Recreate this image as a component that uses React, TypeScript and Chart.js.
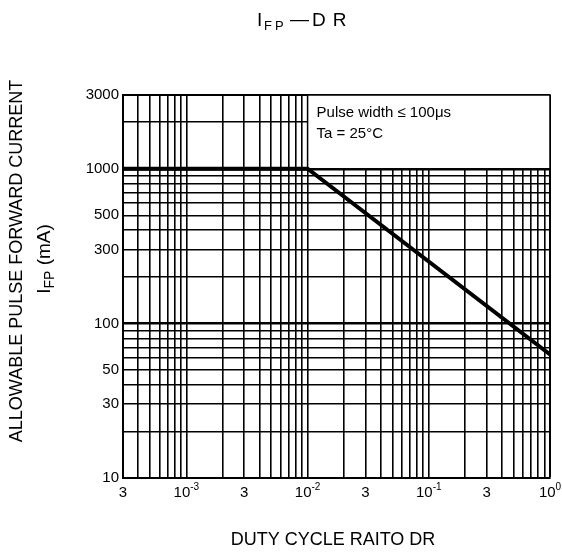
import React, { useEffect, useRef } from "react";
import { Chart, registerables } from "chart.js";

Chart.register(...registerables);

// ---- data ----
const dutyCycle = [0.0003, 0.01, 1];
const allowableCurrent = [1000, 1000, 63];

const xGridValues = [
  0.0003, 0.0004, 0.0005, 0.0006, 0.0007, 0.0008, 0.0009,
  0.001, 0.002, 0.003, 0.004, 0.005, 0.006, 0.007, 0.008, 0.009,
  0.01, 0.02, 0.03, 0.04, 0.05, 0.06, 0.07, 0.08, 0.09,
  0.1, 0.2, 0.3, 0.4, 0.5, 0.6, 0.7, 0.8, 0.9, 1,
];
const yGridValues = [
  10, 20, 30, 40, 50, 60, 70, 80, 90,
  100, 200, 300, 400, 500, 600, 700, 800, 900,
  1000, 2000, 3000,
];
const xLabelValues = [0.0003, 0.001, 0.003, 0.01, 0.03, 0.1, 0.3, 1];
const xLabelBase = ["3", "10", "3", "10", "3", "10", "3", "10"];
const xLabelExp = ["", "-3", "", "-2", "", "-1", "", "0"];
const yLabelValues = [10, 30, 50, 100, 300, 500, 1000, 3000];

const noteLines = ["Pulse width \u2264 100\u03bcs", "Ta = 25\u00b0C"];
const noteBoxX = [0.01, 1];
const noteBoxY = [1000, 3000];

const FONT = '"Liberation Sans", Arial, sans-serif';

const isDecade = (v: number) =>
  Math.abs(Math.log10(v) - Math.round(Math.log10(v))) < 1e-9;

const drawPlugin = {
  id: "drawExtras",
  beforeDatasetsDraw(chart: any) {
    const { ctx } = chart;
    const x = chart.scales.x;
    const y = chart.scales.y;
    const l = x.getPixelForValue(noteBoxX[0]);
    const r = x.getPixelForValue(noteBoxX[1]);
    const t = y.getPixelForValue(noteBoxY[1]);
    const b = y.getPixelForValue(noteBoxY[0]);
    ctx.save();
    ctx.fillStyle = "#fff";
    ctx.fillRect(l, t, r - l, b - t);
    ctx.strokeStyle = "#000";
    ctx.lineWidth = 1.5;
    ctx.strokeRect(l, t, r - l, b - t);
    ctx.fillStyle = "#000";
    ctx.font = `15px ${FONT}`;
    ctx.textBaseline = "middle";
    ctx.textAlign = "left";
    ctx.fillText(noteLines[0], l + 9, t + 18);
    ctx.fillText(noteLines[1], l + 9, t + 39);
    ctx.restore();
  },
  afterDraw(chart: any) {
    const { ctx } = chart;
    const x = chart.scales.x;
    ctx.save();
    ctx.fillStyle = "#000";
    ctx.textBaseline = "middle";
    // x tick labels
    const labelY = chart.chartArea.bottom + 15;
    xLabelValues.forEach((v, i) => {
      const px = x.getPixelForValue(v);
      ctx.font = `15px ${FONT}`;
      const bw = ctx.measureText(xLabelBase[i]).width;
      ctx.font = `10px ${FONT}`;
      const ew = xLabelExp[i] ? ctx.measureText(xLabelExp[i]).width : 0;
      const start = px - (bw + ew) / 2;
      ctx.textAlign = "left";
      ctx.font = `15px ${FONT}`;
      ctx.fillText(xLabelBase[i], start, labelY);
      if (xLabelExp[i]) {
        ctx.font = `10px ${FONT}`;
        ctx.fillText(xLabelExp[i], start + bw, labelY - 6);
      }
    });

    // chart title  I_FP — DR
    ctx.textAlign = "left";
    const ty = 21;
    ctx.font = `19px ${FONT}`;
    (ctx as any).letterSpacing = "0px";
    ctx.fillText("I", 257, ty);
    ctx.font = `13px ${FONT}`;
    (ctx as any).letterSpacing = "3px";
    ctx.fillText("FP", 264, ty + 5);
    (ctx as any).letterSpacing = "0px";
    ctx.font = `19px ${FONT}`;
    ctx.fillText("\u2014", 290, ty - 1);
    (ctx as any).letterSpacing = "7px";
    ctx.fillText("DR", 312, ty);
    (ctx as any).letterSpacing = "0px";

    // x axis title
    ctx.textAlign = "center";
    ctx.font = `18px ${FONT}`;
    ctx.fillText("DUTY CYCLE RAITO DR", 333, 540);

    // y axis titles
    ctx.save();
    ctx.translate(17, 261);
    ctx.rotate(-Math.PI / 2);
    ctx.font = `18px ${FONT}`;
    ctx.textAlign = "center";
    ctx.fillText("ALLOWABLE PULSE FORWARD CURRENT", 0, 0);
    ctx.restore();

    ctx.save();
    ctx.translate(45, 259);
    ctx.rotate(-Math.PI / 2);
    ctx.textAlign = "left";
    ctx.font = `19px ${FONT}`;
    const w1 = ctx.measureText("I").width;
    const w3 = ctx.measureText(" (mA)").width;
    ctx.font = `14px ${FONT}`;
    const w2 = ctx.measureText("FP").width;
    let sx = -(w1 + w2 + w3) / 2;
    ctx.font = `19px ${FONT}`;
    ctx.fillText("I", sx, 0);
    sx += w1;
    ctx.font = `14px ${FONT}`;
    ctx.fillText("FP", sx, 5);
    sx += w2;
    ctx.font = `19px ${FONT}`;
    ctx.fillText(" (mA)", sx, 0);
    ctx.restore();

    ctx.restore();
  },
};

export default function App() {
  const canvasRef = useRef<HTMLCanvasElement | null>(null);

  useEffect(() => {
    const canvas = canvasRef.current;
    if (!canvas) return;
    const chart = new Chart(canvas, {
      type: "line",
      data: {
        datasets: [
          {
            data: dutyCycle.map((d, i) => ({ x: d, y: allowableCurrent[i] })),
            borderColor: "#000",
            borderWidth: 4,
            pointRadius: 0,
            fill: false,
            tension: 0,
          },
        ],
      },
      options: {
        responsive: false,
        animation: false,
        devicePixelRatio: 1,
        layout: { padding: { left: 0, top: 95, right: 12, bottom: 78 } },
        plugins: {
          legend: { display: false },
          tooltip: { enabled: false },
          title: { display: false },
        },
        scales: {
          x: {
            type: "logarithmic",
            min: 0.0003,
            max: 1,
            afterBuildTicks: (scale: any) => {
              scale.ticks = xGridValues.map((v) => ({ value: v }));
            },
            afterFit: (scale: any) => {
              scale.height = 0;
            },
            ticks: { display: false, autoSkip: false },
            grid: {
              drawTicks: false,
              color: "#000",
              lineWidth: (c: any) => (c.tick && c.tick.value === 1 ? 2 : 1.6),
            },
            border: { display: true, color: "#000", width: 2 },
          },
          y: {
            type: "logarithmic",
            min: 10,
            max: 3000,
            afterBuildTicks: (scale: any) => {
              scale.ticks = yGridValues.map((v) => ({ value: v }));
            },
            afterFit: (scale: any) => {
              scale.width = 123;
            },
            ticks: {
              autoSkip: false,
              color: "#000",
              padding: 4,
              font: { family: FONT, size: 15 },
              callback: (v: any) =>
                yLabelValues.includes(Number(v)) ? String(v) : "",
            },
            grid: {
              drawTicks: false,
              color: "#000",
              lineWidth: (c: any) => {
                const v = c.tick ? c.tick.value : 0;
                if (v === 3000) return 2;
                if (isDecade(v) && v !== 10) return 2.5;
                return 1.6;
              },
            },
            border: { display: true, color: "#000", width: 2 },
          },
        },
      },
      plugins: [drawPlugin],
    });
    return () => chart.destroy();
  }, []);

  return (
    <div
      style={{
        position: "fixed",
        left: 0,
        top: 0,
        width: 562,
        height: 556,
        background: "#fff",
      }}
    >
      <canvas
        ref={canvasRef}
        width={562}
        height={556}
        style={{ display: "block", width: 562, height: 556 }}
      />
    </div>
  );
}
